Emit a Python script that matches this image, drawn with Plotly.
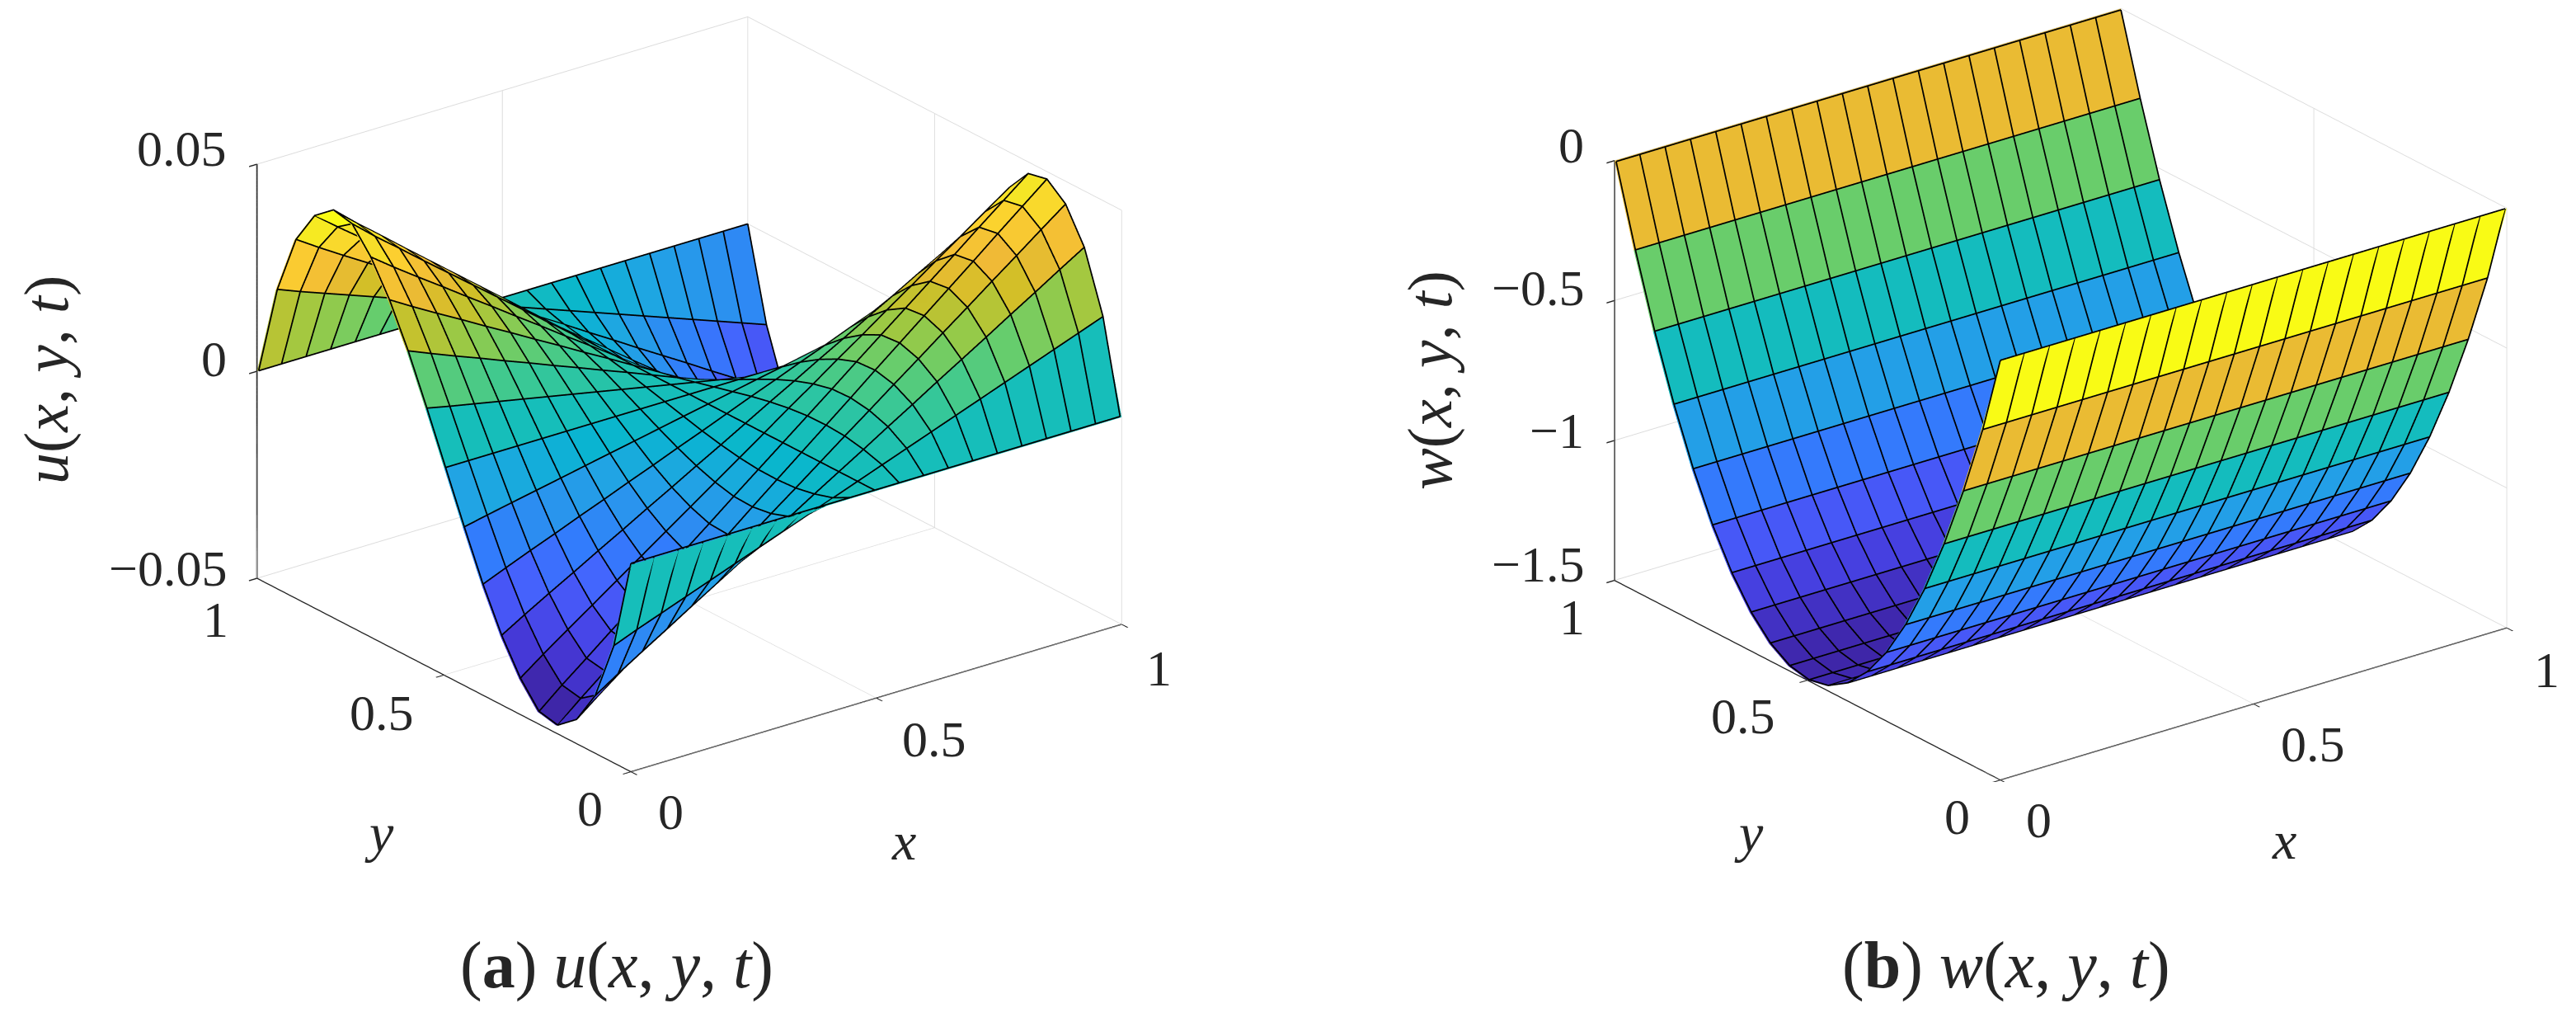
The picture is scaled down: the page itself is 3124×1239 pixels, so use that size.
import plotly.graph_objects as go

# grid, 21 points each way
x_vals = [0, 0.05, 0.1, 0.15, 0.2, 0.25, 0.3, 0.35, 0.4, 0.45, 0.5, 0.55, 0.6, 0.65, 0.7, 0.75, 0.8, 0.85, 0.9, 0.95, 1]
y_vals = [0, 0.05, 0.1, 0.15, 0.2, 0.25, 0.3, 0.35, 0.4, 0.45, 0.5, 0.55, 0.6, 0.65, 0.7, 0.75, 0.8, 0.85, 0.9, 0.95, 1]

# u(x,y,t), one row per y value
u_rows = [
    [0] * 21,
    [-.0220, -.0198, -.0176, -.0154, -.0132, -.0110, -.0088, -.0066, -.0044, -.0022, 0, .0022, .0044, .0066, .0088, .0110, .0132, .0154, .0176, .0198, .0220],
    [-.0364, -.0328, -.0291, -.0255, -.0218, -.0182, -.0146, -.0109, -.0073, -.0036, 0, .0036, .0073, .0109, .0146, .0182, .0218, .0255, .0291, .0328, .0364],
    [-.0445, -.0401, -.0356, -.0312, -.0267, -.0223, -.0178, -.0134, -.0089, -.0045, 0, .0045, .0089, .0134, .0178, .0223, .0267, .0312, .0356, .0401, .0445],
    [-.0482, -.0434, -.0386, -.0337, -.0289, -.0241, -.0193, -.0145, -.0096, -.0048, 0, .0048, .0096, .0145, .0193, .0241, .0289, .0337, .0386, .0434, .0482],
    [-.0472, -.0425, -.0378, -.0330, -.0283, -.0236, -.0189, -.0142, -.0094, -.0047, 0, .0047, .0094, .0142, .0189, .0236, .0283, .0330, .0378, .0425, .0472],
    [-.0415, -.0374, -.0332, -.0291, -.0249, -.0208, -.0166, -.0125, -.0083, -.0042, 0, .0042, .0083, .0125, .0166, .0208, .0249, .0291, .0332, .0374, .0415],
    [-.0335, -.0302, -.0268, -.0235, -.0201, -.0168, -.0134, -.0101, -.0067, -.0034, 0, .0034, .0067, .0101, .0134, .0168, .0201, .0235, .0268, .0302, .0335],
    [-.0235, -.0212, -.0188, -.0165, -.0141, -.0118, -.0094, -.0071, -.0047, -.0024, 0, .0024, .0047, .0071, .0094, .0118, .0141, .0165, .0188, .0212, .0235],
    [-.0120, -.0108, -.0096, -.0084, -.0072, -.0060, -.0048, -.0036, -.0024, -.0012, 0, .0012, .0024, .0036, .0048, .0060, .0072, .0084, .0096, .0108, .0120],
    [0] * 21,
    [.0120, .0108, .0096, .0084, .0072, .0060, .0048, .0036, .0024, .0012, 0, -.0012, -.0024, -.0036, -.0048, -.0060, -.0072, -.0084, -.0096, -.0108, -.0120],
    [.0235, .0212, .0188, .0165, .0141, .0118, .0094, .0071, .0047, .0024, 0, -.0024, -.0047, -.0071, -.0094, -.0118, -.0141, -.0165, -.0188, -.0212, -.0235],
    [.0335, .0302, .0268, .0235, .0201, .0168, .0134, .0101, .0067, .0034, 0, -.0034, -.0067, -.0101, -.0134, -.0168, -.0201, -.0235, -.0268, -.0302, -.0335],
    [.0415, .0374, .0332, .0291, .0249, .0208, .0166, .0125, .0083, .0042, 0, -.0042, -.0083, -.0125, -.0166, -.0208, -.0249, -.0291, -.0332, -.0374, -.0415],
    [.0472, .0425, .0378, .0330, .0283, .0236, .0189, .0142, .0094, .0047, 0, -.0047, -.0094, -.0142, -.0189, -.0236, -.0283, -.0330, -.0378, -.0425, -.0472],
    [.0482, .0434, .0386, .0337, .0289, .0241, .0193, .0145, .0096, .0048, 0, -.0048, -.0096, -.0145, -.0193, -.0241, -.0289, -.0337, -.0386, -.0434, -.0482],
    [.0445, .0401, .0356, .0312, .0267, .0223, .0178, .0134, .0089, .0045, 0, -.0045, -.0089, -.0134, -.0178, -.0223, -.0267, -.0312, -.0356, -.0401, -.0445],
    [.0364, .0328, .0291, .0255, .0218, .0182, .0146, .0109, .0073, .0036, 0, -.0036, -.0073, -.0109, -.0146, -.0182, -.0218, -.0255, -.0291, -.0328, -.0364],
    [.0220, .0198, .0176, .0154, .0132, .0110, .0088, .0066, .0044, .0022, 0, -.0022, -.0044, -.0066, -.0088, -.0110, -.0132, -.0154, -.0176, -.0198, -.0220],
    [0] * 21,
]

# w(x,y,t) does not change with x, so one value per y
w_by_y = [0, -.285, -.54, -.765, -.96, -1.125, -1.26, -1.365, -1.44, -1.485, -1.5,
          -1.485, -1.44, -1.365, -1.26, -1.125, -.96, -.765, -.54, -.285, 0]
w_rows = [[v] * 21 for v in w_by_y]

xy_ticks = [0, 0.5, 1]
xy_labels = ["0", "0.5", "1"]
u_ticks = [-0.05, 0, 0.05]
u_labels = ["\u22120.05", "0", "0.05"]
w_ticks = [-1.5, -1, -0.5, 0]
w_labels = ["\u22121.5", "\u22121", "\u22120.5", "0"]

parula = [
    [0.0, "rgb(62,38,168)"], [0.063, "rgb(69,55,213)"], [0.127, "rgb(72,77,240)"],
    [0.19, "rgb(69,99,253)"], [0.254, "rgb(50,124,252)"], [0.317, "rgb(43,145,239)"],
    [0.381, "rgb(32,165,227)"], [0.444, "rgb(8,181,208)"], [0.508, "rgb(25,191,182)"],
    [0.571, "rgb(55,200,151)"], [0.635, "rgb(100,205,111)"], [0.698, "rgb(157,201,67)"],
    [0.762, "rgb(209,191,39)"], [0.825, "rgb(240,186,54)"], [0.889, "rgb(252,207,48)"],
    [0.952, "rgb(245,229,38)"], [1.0, "rgb(249,251,21)"],
]

FONT = "Liberation Serif"
INK = "#262626"
GRID = "#dcdcdc"
EYE = (-0.557, -0.731, 0.394)
NUDGE = 0.006  # pulls mesh lines toward the camera so they do not z-fight with the faces


def surface(rows, z_ticks, z_aspect, zmin, zmax, scene):
    # flat coloured faces, each cell takes the colour of its lower corner
    vx, vy, vz, ii, jj, kk, cell = [], [], [], [], [], [], []
    n = len(x_vals)
    for r, y in enumerate(y_vals):
        for c, x in enumerate(x_vals):
            vx.append(x)
            vy.append(y)
            vz.append(rows[r][c])
    for r in range(len(y_vals) - 1):
        for c in range(n - 1):
            a = r * n + c
            ii += [a, a]
            jj += [a + 1, a + n + 1]
            kk += [a + n + 1, a + n]
            cell += [rows[r][c], rows[r][c]]
    mesh = go.Mesh3d(x=vx, y=vy, z=vz, i=ii, j=jj, k=kk, intensity=cell, intensitymode="cell",
                     colorscale=parula, cmin=zmin, cmax=zmax, showscale=False, flatshading=True,
                     lighting=dict(ambient=1, diffuse=0, specular=0, fresnel=0, roughness=1),
                     hoverinfo="skip", scene=scene)

    zspan = z_ticks[-1] - z_ticks[0]

    def near(x, y, z):
        return (max(x + EYE[0] * NUDGE, 0), max(y + EYE[1] * NUDGE, 0),
                min(z + EYE[2] * NUDGE * zspan / z_aspect, z_ticks[-1]))

    # mesh lines
    lx, ly, lz = [], [], []
    for r, y in enumerate(y_vals):
        for c, x in enumerate(x_vals):
            p = near(x, y, rows[r][c])
            lx.append(p[0])
            ly.append(p[1])
            lz.append(p[2])
        lx.append(None)
        ly.append(None)
        lz.append(None)
    for c, x in enumerate(x_vals):
        for r, y in enumerate(y_vals):
            p = near(x, y, rows[r][c])
            lx.append(p[0])
            ly.append(p[1])
            lz.append(p[2])
        lx.append(None)
        ly.append(None)
        lz.append(None)
    lines = go.Scatter3d(x=lx, y=ly, z=lz, mode="lines", line=dict(color="black", width=3.5),
                         hoverinfo="skip", showlegend=False, scene=scene)
    # vertical axis on the left corner
    z_line = go.Scatter3d(x=[x_vals[0], x_vals[0]], y=[y_vals[-1], y_vals[-1]], z=[z_ticks[0], z_ticks[-1]],
                          mode="lines", line=dict(color=INK, width=3.5), hoverinfo="skip",
                          showlegend=False, scene=scene)
    return [mesh, lines, z_line]


def axis(ticks, rng):
    return dict(range=rng, tickmode="array", tickvals=ticks, showticklabels=False, title="",
                showbackground=False, showgrid=True, gridcolor=GRID, gridwidth=2, zeroline=False,
                showline=True, linecolor=INK, linewidth=3, ticks="outside", ticklen=12,
                tickcolor=INK, tickwidth=3, showspikes=False)


def tick_notes(z_ticks, z_labels, z_shift, y_shift, x_shift):
    notes = []
    font = dict(family=FONT, size=62, color=INK)
    for v, t, s in zip(z_ticks, z_labels, z_shift):
        notes.append(dict(x=0, y=1, z=v, text=t, showarrow=False, xanchor="right", xshift=-35, yshift=s, font=font))
    for v, t, s in zip(xy_ticks, xy_labels, y_shift):
        notes.append(dict(x=0, y=v, z=z_ticks[0], text=t, showarrow=False, xshift=s[0], yshift=s[1], font=font))
    for v, t, s in zip(xy_ticks, xy_labels, x_shift):
        notes.append(dict(x=v, y=0, z=z_ticks[0], text=t, showarrow=False, xshift=s[0], yshift=s[1], font=font))
    return notes


def scene(z_ticks, z_range, domain_x, zoom, z_aspect, notes):
    # eye is far out so nothing hits the near plane, the size comes from the aspect ratio
    return dict(domain=dict(x=domain_x, y=[0.2413, 1]),
                xaxis=axis(xy_ticks, [0, 1]), yaxis=axis(xy_ticks, [0, 1]), zaxis=axis(z_ticks, z_range),
                aspectmode="manual", aspectratio=dict(x=zoom, y=zoom, z=z_aspect * zoom),
                camera=dict(projection=dict(type="orthographic"), up=dict(x=0, y=0, z=1),
                            center=dict(x=0, y=0, z=0),
                            eye=dict(x=EYE[0] * 5, y=EYE[1] * 5, z=EYE[2] * 5)),
                annotations=notes)


def paper_note(px, py, text, size=66, angle=0):
    return dict(x=px / 3124, y=1 - py / 1239, xref="paper", yref="paper", text=text, showarrow=False,
                xanchor="center", yanchor="middle", textangle=angle, font=dict(family=FONT, size=size, color=INK))


fig = go.Figure(surface(u_rows, u_ticks, 0.73, -0.0482, 0.0482, "scene")
                + surface(w_rows, w_ticks, 0.717, -1.5, 0, "scene2"))

fig.update_layout(
    width=3124, height=1239, margin=dict(l=0, r=0, t=0, b=0), paper_bgcolor="white", showlegend=False,
    scene=scene(u_ticks, [-0.05, 0.05], [0, 0.53], 1.592, 0.73,
                tick_notes(u_ticks, u_labels, [12, 15, 19],
                           [(-50, -44), (-75, -46), (-50, -50)], [(48, -48), (70, -50), (45, -53)])),
    scene2=scene(w_ticks, [-1.5, 0], [0.5948, 1], 1.643, 0.717,
                 tick_notes(w_ticks, w_labels, [20, 12, 15, 19],
                            [(-52, -44), (-78, -43), (-52, -44)], [(47, -48), (72, -49), (48, -51)])),
    annotations=[
        paper_note(48, 453, "<i>u</i>(<i>x</i>, <i>y</i>, <i>t</i>)", size=76, angle=-90),
        paper_note(452, 1001, "<i>y</i>"),
        paper_note(1088, 1011, "<i>x</i>"),
        paper_note(740, 1162, "(<b>a</b>) <i>u</i>(<i>x</i>, <i>y</i>, <i>t</i>)", size=80),
        paper_note(1726, 453, "<i>w</i>(<i>x</i>, <i>y</i>, <i>t</i>)", size=76, angle=-90),
        paper_note(2113, 1001, "<i>y</i>"),
        paper_note(2762, 1010, "<i>x</i>"),
        paper_note(2425, 1162, "(<b>b</b>) <i>w</i>(<i>x</i>, <i>y</i>, <i>t</i>)", size=80),
    ],
)

fig.write_html("out.html")
